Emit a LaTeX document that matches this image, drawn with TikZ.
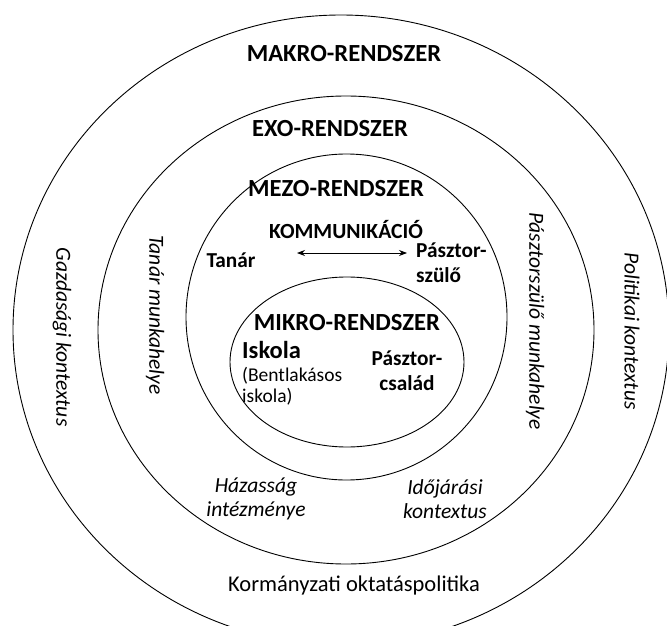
\documentclass[tikz,border=0pt]{standalone}
\usepackage{fontspec}
\setmainfont{Carlito}
\usetikzlibrary{positioning, arrows.meta, shapes.geometric}

\tikzset{
  ring/.style={ellipse, draw, line width=0.9pt, inner sep=0pt},
  title/.style={font=\fontsize{24.6}{28}\selectfont\bfseries, inner sep=0pt},
  tag/.style={font=\fontsize{21.3}{25}\selectfont\bfseries, inner sep=0pt},
  plain/.style={font=\fontsize{19.5}{21}\selectfont, inner sep=0pt},
  ctx/.style={font=\fontsize{21.5}{24}\selectfont\itshape, align=center, inner sep=0pt},
}

\begin{document}
\begin{tikzpicture}[x=1pt, y=-1pt, >={Stealth[length=8pt, width=6pt]}]
        \useasboundingbox (0,0) rectangle (667,626);
        \clip (0,0) rectangle (667,626);

        % Rendszerek (koncentrikus gyuruk)
        \node[ring, minimum width=656pt, minimum height=630pt] (makro) at (341,330) {};
        \node[ring, minimum width=496pt, minimum height=468pt] (exo) at (346,330) {};
        \node[ring, minimum width=321pt, minimum height=326pt] (mezo) at (346.5,317) {};
        \node[ring, minimum width=234pt, minimum height=170pt] (mikro) at (347,362) {};

        % Cimek
        \node[title] (makroT) at (344,54) {MAKRO-RENDSZER};
        \node[title] (exoT) at (330,129) {EXO-RENDSZER};
        \node[title] (mezoT) at (336,189) {MEZO-RENDSZER};
        \node[title] (mikroT) at (347,323) {MIKRO-RENDSZER};

        % Mezo: kommunikacio
        \node[tag, font=\fontsize{21.6}{25}\selectfont\bfseries] (komm) at (346,230) {KOMMUNIKÁCIÓ};
        \node[tag] (tanar) at (231,260) {Tanár};
        \node[tag, align=left, anchor=west] (pszulo) at (416,263) {Pásztor-\\szülő};
        \coordinate (kbal) at (297,253);
        \coordinate (kjobb) at (407,253);
        \draw[<->, line width=0.8pt] (kbal) -- (kjobb);

        % Mikro
        \node[tag, anchor=west, font=\fontsize{24.5}{28}\selectfont\bfseries] (iskola) at (242,350) {Iskola};
        \node[plain, align=left, anchor=north west] (bentlak) at (242,367) {(Bentlakásos\\iskola)};
        \node[tag, align=center] (pcsalad) at (407,371) {Pásztor-\\család};

        % Exo
        \node[ctx, rotate=-90] (tmunka) at (155,315) {Tanár munkahelye};
        \node[ctx, rotate=-90] (pmunka) at (535,321) {Pásztorszülő munkahelye};
        \node[ctx] (hazas) at (256,499) {Házasság\\intézménye};
        \node[ctx] (idojaras) at (445,499) {Időjárási\\kontextus};

        % Makro
        \node[ctx, rotate=-90] (gazd) at (62,337) {Gazdasági kontextus};
        \node[ctx, rotate=-90] (polit) at (632,331) {Politikai kontextus};
        \node[ctx, font=\fontsize{22.5}{24}\selectfont] (korm) at (354,585) {Kormányzati oktatáspolitika};
    \end{tikzpicture}
\end{document}
